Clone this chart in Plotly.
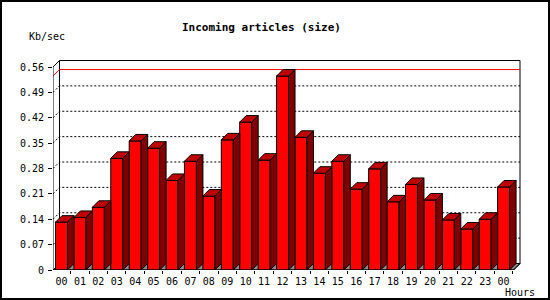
import plotly.graph_objects as go

# ---- data ----
hours = ["00", "01", "02", "03", "04", "05", "06", "07", "08", "09", "10", "11",
         "12", "13", "14", "15", "16", "17", "18", "19", "20", "21", "22", "23", "00"]
values = [0.132, 0.145, 0.173, 0.308, 0.356, 0.336, 0.247, 0.300, 0.204, 0.359,
          0.408, 0.303, 0.535, 0.366, 0.267, 0.300, 0.223, 0.279, 0.188, 0.236,
          0.193, 0.138, 0.113, 0.140, 0.229]
ytick_vals = [0, 0.07, 0.14, 0.21, 0.28, 0.35, 0.42, 0.49, 0.56]
ytick_text = ["0", "0.07", "0.14", "0.21", "0.28", "0.35", "0.42", "0.49", "0.56"]
title = "Incoming articles (size)"
ylabel = "Kb/sec"
xlabel = "Hours"

# ---- geometry (pixels) ----
W, H = 550, 300
L, R, T, B = 53, 522, 58, 270          # plot area in px
SX = 18.42                             # px per bar slot
SY = 362.5                             # px per unit value
X0C = 61.5                             # px of first bar centre
DPX = 6.5                              # 3-D depth in px

xr = [-(X0C - L) / SX, (R - X0C) / SX]
yr = [0, (B - T) / SY]
dx = DPX / SX
dy = DPX / SY
hw = 0.325                              # half bar width (units)

xfl = -(X0C - L) / SX                   # front left
xbl = xfl + dx                          # back left
xfr = 24.5 + (513.5 - (X0C + 24.5 * SX)) / SX   # front right
xbr = xfr + dx                          # back right
ytop = ytick_vals[-1]

def pxx(p):
    return (p - L) / (R - L)

def pxy(p):
    return (B - p) / (B - T)

fig = go.Figure()

# front faces
xs = list(range(len(values)))
fig.add_trace(go.Bar(x=xs, y=values, width=2 * hw,
                     marker=dict(color="#FF0000", line=dict(color="black", width=1)),
                     hoverinfo="skip"))

# side and top faces
sx, sy = [], []
tx, ty = [], []
for i, v in zip(xs, values):
    sx += [i + hw, i + hw, i + hw + dx, i + hw + dx, i + hw, None]
    sy += [0, v, v + dy, dy, 0, None]
    tx += [i - hw, i + hw, i + hw + dx, i - hw + dx, i - hw, None]
    ty += [v, v, v + dy, v + dy, v, None]
fig.add_trace(go.Scatter(x=sx, y=sy, mode="lines", fill="toself",
                         fillcolor="#800000", line=dict(color="black", width=1),
                         hoverinfo="skip"))
fig.add_trace(go.Scatter(x=tx, y=ty, mode="lines", fill="toself",
                         fillcolor="#C00000", line=dict(color="black", width=1),
                         hoverinfo="skip"))

shapes = []
# floor
shapes.append(dict(type="path", xref="x", yref="y", layer="below",
                   path=f"M {xfl} 0 L {xfr} 0 L {xbr} {dy} L {xbl} {dy} Z",
                   fillcolor="#8c8c8c", line=dict(color="black", width=1)))
# back box
shapes.append(dict(type="rect", xref="x", yref="y", layer="below",
                   x0=xbl, x1=xbr, y0=dy, y1=ytop + dy,
                   line=dict(color="black", width=1)))
# grid lines
for v in ytick_vals[1:-1]:
    shapes.append(dict(type="path", xref="x", yref="y", layer="below",
                       path=f"M {xfl} {v} L {xbl} {v + dy} L {xbr} {v + dy}",
                       line=dict(color="black", width=1, dash="2px,2px")))
# max line
vmax = max(values)
shapes.append(dict(type="path", xref="x", yref="y", layer="below",
                   path=f"M {xfl} {vmax} L {xbl} {vmax + dy} L {xbr} {vmax + dy}",
                   line=dict(color="#FF0000", width=1)))
# front axes
shapes.append(dict(type="path", xref="x", yref="y", layer="above",
                   path=f"M {xbl} {ytop + dy} L {xfl} {ytop} L {xfl} 0 L {xfr} 0 L {xbr} {dy}",
                   line=dict(color="black", width=1)))
# image border
shapes.append(dict(type="rect", xref="paper", yref="paper",
                   x0=pxx(1), x1=pxx(W - 1), y0=pxy(H - 1), y1=pxy(1),
                   line=dict(color="black", width=2)))

annotations = [
    dict(text=f"<b>{title}</b>", xref="paper", yref="paper", x=pxx(261), y=pxy(27),
         xanchor="center", yanchor="middle", showarrow=False,
         font=dict(family="DejaVu Sans Mono", size=11, color="black")),
    dict(text=ylabel, xref="paper", yref="paper", x=pxx(27), y=pxy(37),
         xanchor="left", yanchor="middle", showarrow=False,
         font=dict(family="DejaVu Sans Mono", size=10, color="black")),
    dict(text=xlabel, xref="paper", yref="paper", x=pxx(503), y=pxy(292),
         xanchor="left", yanchor="middle", showarrow=False,
         font=dict(family="DejaVu Sans Mono", size=10, color="black")),
]

fig.update_layout(
    width=W, height=H,
    margin=dict(l=L, r=W - R, t=T, b=H - B, pad=0),
    paper_bgcolor="white", plot_bgcolor="white",
    showlegend=False, shapes=shapes, annotations=annotations,
    font=dict(family="DejaVu Sans Mono", size=10, color="black"),
    xaxis=dict(range=xr, showgrid=False, zeroline=False, showline=False,
               tickmode="array", tickvals=xs, ticktext=hours,
               ticks="", ticklen=0, ticklabelstandoff=4,
               minor=dict(tickmode="array", tickvals=[i - 0.5 for i in range(len(values) + 1)],
                          ticks="outside", ticklen=3, tickcolor="black", showgrid=False),
               tickfont=dict(family="DejaVu Sans Mono", size=10, color="black")),
    yaxis=dict(range=yr, showgrid=False, zeroline=False, showline=False,
               tickmode="array", tickvals=ytick_vals, ticktext=ytick_text,
               ticks="outside", ticklen=4, tickcolor="black", ticklabelstandoff=2,
               tickfont=dict(family="DejaVu Sans Mono", size=10, color="black")),
)

fig.write_html("out.html")
